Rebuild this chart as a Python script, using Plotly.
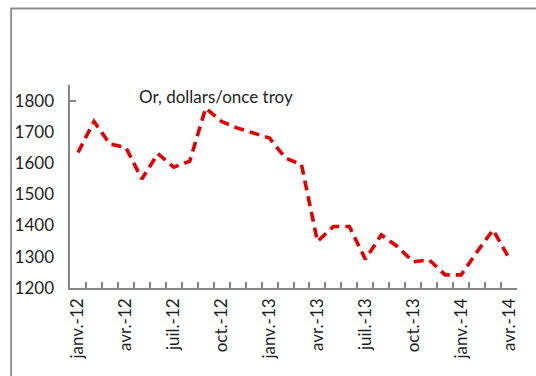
import plotly.graph_objects as go

# Monthly gold price, USD per troy ounce
months = [
    "janv.-12", "févr.-12", "mars-12", "avr.-12", "mai-12", "juin-12",
    "juil.-12", "août-12", "sept.-12", "oct.-12", "nov.-12", "déc.-12",
    "janv.-13", "févr.-13", "mars-13", "avr.-13", "mai-13", "juin-13",
    "juil.-13", "août-13", "sept.-13", "oct.-13", "nov.-13", "déc.-13",
    "janv.-14", "févr.-14", "mars-14", "avr.-14",
]
gold = [
    1634, 1733, 1661, 1650, 1549, 1630, 1587, 1606, 1776, 1733, 1712, 1696,
    1680, 1616, 1595, 1349, 1397, 1397, 1292, 1370, 1333, 1284, 1290, 1242,
    1242, 1316, 1386, 1296,
]
label_every = 3
y_ticks = [1200, 1300, 1400, 1500, 1600, 1700, 1800]

FONT = "Lato"
TXT = "#1e1e1e"
AXIS = "#868686"

n = len(months)
x_idx = list(range(n))
x_range = [-0.5, n - 0.5]
y_range = [1200, 1850]

fig = go.Figure()
fig.add_trace(go.Scatter(
    x=x_idx, y=gold, mode="lines",
    line=dict(color="#e30000", width=3.6, dash="10px,6px"),
    hoverinfo="skip", showlegend=False,
))
# Invisible trace so the label axes (x2/y2) are laid out
fig.add_trace(go.Scatter(
    x=[x_range[0]], y=[y_range[0]], xaxis="x2", yaxis="y2",
    mode="markers", marker=dict(opacity=0), hoverinfo="skip",
    showlegend=False,
))

fig.update_layout(
    width=536, height=376,
    margin=dict(l=69.5, r=19.3, t=85, b=88),
    paper_bgcolor="white", plot_bgcolor="white",
    font=dict(family=FONT, size=17, color=TXT),
    # Main axes: axis lines and tick marks (month boundaries, one mark at 1800)
    xaxis=dict(
        range=x_range, tickmode="array",
        tickvals=[i - 0.5 for i in range(n + 1)],
        ticks="inside", ticklen=6, tickwidth=1.5, tickcolor=AXIS,
        showticklabels=False, showgrid=False, zeroline=False,
        showline=True, linecolor=AXIS, linewidth=2,
    ),
    yaxis=dict(
        range=y_range, tickmode="array", tickvals=[y_ticks[-1]],
        ticks="inside", ticklen=6, tickwidth=1.5, tickcolor=AXIS,
        showticklabels=False, showgrid=False, zeroline=False,
        showline=True, linecolor=AXIS, linewidth=2,
    ),
    # Overlay axes: tick labels only
    xaxis2=dict(
        overlaying="x", anchor="y", side="bottom", range=x_range,
        tickmode="array", tickvals=x_idx[::label_every],
        ticktext=months[::label_every],
        tickangle=-90, ticks="", showgrid=False, zeroline=False,
        showline=False, ticklabelstandoff=6,
        tickfont=dict(family=FONT, size=17, color=TXT),
    ),
    yaxis2=dict(
        overlaying="y", anchor="x", side="left", range=y_range,
        tickmode="array", tickvals=y_ticks,
        ticks="", showgrid=False, zeroline=False, showline=False,
        ticklabelstandoff=15,
        tickfont=dict(family=FONT, size=17, color=TXT),
    ),
    annotations=[dict(
        text="Or, dollars/once troy",
        xref="paper", yref="paper",
        x=(137 - 69.5) / 447.2, y=(288 - 96) / 203,
        xanchor="left", yanchor="middle", showarrow=False,
        font=dict(family=FONT, size=17, color=TXT),
    )],
    shapes=[dict(
        type="rect", xref="paper", yref="paper",
        x0=(10.5 - 69.5) / 447.2, x1=(545 - 69.5) / 447.2,
        y0=(288 - 390) / 203, y1=(288 - 8.5) / 203,
        line=dict(color="#8c8c8c", width=1.8), fillcolor="rgba(0,0,0,0)",
        layer="below",
    )],
)

fig.write_html("out.html")
